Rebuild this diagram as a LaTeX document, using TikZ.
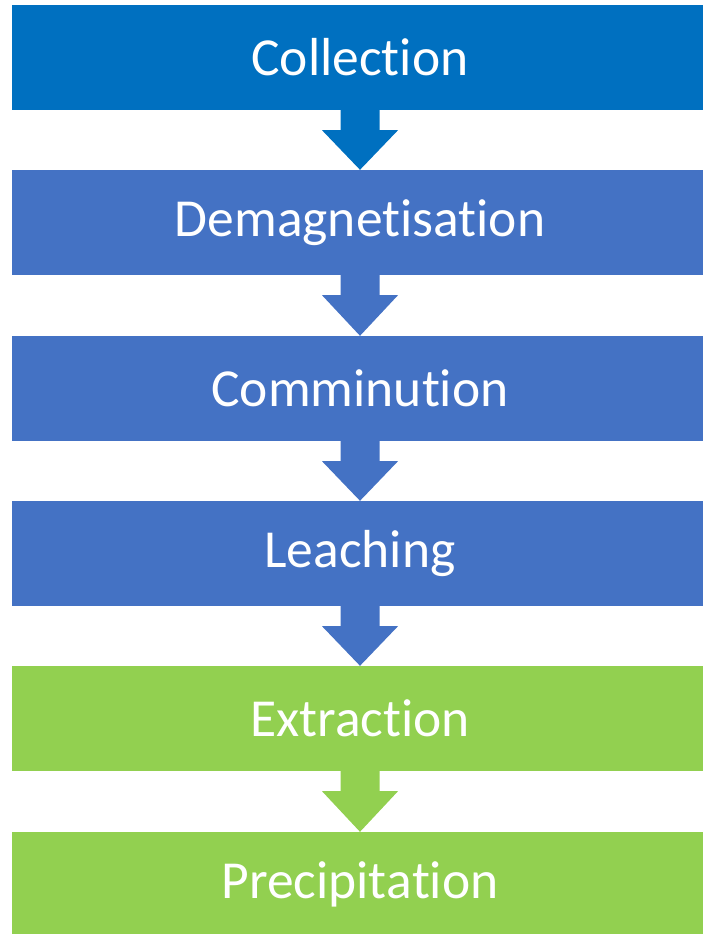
\documentclass[tikz,border=0pt]{standalone}
\usepackage{fontspec}
\setmainfont[RawFeature={-liga;-clig;-dlig;-calt;-rlig;-hlig}]{Carlito}
\usetikzlibrary{calc}
\definecolor{cblue}{HTML}{0070C0}
\definecolor{cmid}{HTML}{4472C4}
\definecolor{cgreen}{HTML}{92D050}
\newcommand\nolig{\kern0pt\relax}
\begin{document}
\begin{tikzpicture}[x=1pt,y=-1pt,
  stagebox/.style={fill=#1, draw=none, inner sep=0pt, minimum width=691pt, minimum height=105pt,
    text=white, font=\fontsize{53.5}{60}\selectfont}]
\useasboundingbox (0,0) rectangle (703,934);
\foreach \t/\c/\n/\txt in {5/cblue/b1/Collection,170/cmid/b2/Demagnet\nolig isat\nolig ion,336/cmid/b3/Comminut\nolig ion,501/cmid/b4/Leaching,666/cgreen/b5/Extract\nolig ion,832/cgreen/b6/Precipit\nolig at\nolig ion}{
  \node[stagebox=\c] (\n) at (357.5,\t+52.5) {\hspace*{5pt}\txt};
}
% arrows from one box to the next
\foreach \a/\b/\c in {b1/b2/cblue,b2/b3/cmid,b3/b4/cmid,b4/b5/cmid,b5/b6/cgreen}{
  \coordinate (s) at ([xshift=2.5pt]\a.south);
  \coordinate (e) at ([xshift=2.5pt]\b.north);
  \fill[\c] ($(s)+(-19.5,0)$) -- ($(s)+(19.5,0)$) -- ($(s)+(19.5,20)$) -- ($(s)+(38,20)$)
    -- (e) -- ($(s)+(-38,20)$) -- ($(s)+(-19.5,20)$) -- cycle;
}
\end{tikzpicture}
\end{document}
